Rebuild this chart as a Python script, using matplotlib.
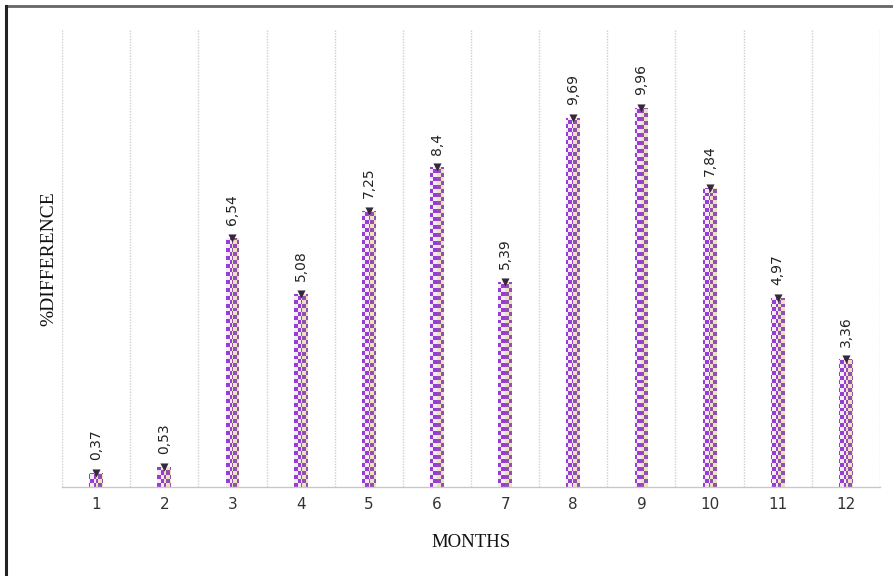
import matplotlib
matplotlib.use("Agg")
import matplotlib.pyplot as plt
import numpy as np
from matplotlib.lines import Line2D

months = [1, 2, 3, 4, 5, 6, 7, 8, 9, 10, 11, 12]
pct_diff = [0.37, 0.53, 6.54, 5.08, 7.25, 8.4, 5.39, 9.69, 9.96, 7.84, 4.97, 3.36]
value_labels = ["0,37", "0,53", "6,54", "5,08", "7,25", "8,4",
                "5,39", "9,69", "9,96", "7,84", "4,97", "3,36"]

fig = plt.figure(figsize=(8.93, 5.76), dpi=100)
ax = fig.add_axes([62 / 893, 89 / 576, 818 / 893, 457 / 576])

ax.set_xlim(0.5, 12.5)
ax.set_ylim(0, 12)

# checkerboard fill, roughly 4 px squares over the whole axes
ny, nx = 115, 205
checker = (np.add.outer(np.arange(ny), np.arange(nx)) % 2).astype(float)

bar_w = 0.2
half = bar_w / 2
left_bars = ax.bar(np.array(months) - half / 2, pct_diff, width=half,
                   color="none", edgecolor="none", zorder=2)
right_bars = ax.bar(np.array(months) + half / 2, pct_diff, width=half,
                    color="none", edgecolor="none", zorder=2)

left_cmap = matplotlib.colors.ListedColormap(["#9a3bd4", "#f3ecf7"])
right_cmap = matplotlib.colors.ListedColormap(["#eee0c0", "#8c52ad"])

for patches, cmap in [(left_bars, left_cmap), (right_bars, right_cmap)]:
    for p in patches:
        im = ax.imshow(checker, cmap=cmap, extent=(0.5, 12.5, 0, 12),
                       aspect="auto", interpolation="nearest", origin="lower",
                       zorder=2)
        im.set_clip_path(p)

# dark cap on top of each bar
ax.scatter(months, pct_diff, marker="v", s=34, color="#352838", zorder=3,
           linewidths=0)

for m, v, lab in zip(months, pct_diff, value_labels):
    ax.annotate(lab, (m, v), xytext=(0, 9), textcoords="offset points",
                rotation=90, ha="center", va="bottom", fontsize=10,
                family="DejaVu Sans", color="#222222")

# dotted category separators and baseline
ax.set_xticks(np.arange(0.5, 13, 1), minor=True)
ax.grid(axis="x", which="minor", linestyle=(0, (1, 1)), color="#d0d0d0",
        linewidth=1)
ax.grid(axis="x", which="major", visible=False)
for s in ["top", "right", "left"]:
    ax.spines[s].set_visible(False)
ax.spines["bottom"].set_linestyle((0, (1, 1)))
ax.spines["bottom"].set_color("#c8c8c8")
ax.spines["bottom"].set_linewidth(1)

ax.set_xticks(months)
ax.set_xticklabels([str(m) for m in months], fontsize=11,
                   family="DejaVu Sans", color="#333333")
ax.tick_params(axis="x", which="both", length=0, pad=7)
ax.set_yticks([])

ax.set_xlabel("MONTHS", family="Liberation Serif", fontsize=13.5,
              color="#111111", labelpad=16)
ax.set_ylabel("%DIFFERENCE", family="Liberation Serif", fontsize=14,
              color="#111111", labelpad=3)

# outer frame, top and left edges
fig.add_artist(Line2D([6 / 893, 1], [1 - 6 / 576, 1 - 6 / 576],
                      transform=fig.transFigure, color="#666666", lw=2))
fig.add_artist(Line2D([6 / 893, 6 / 893], [0, 1 - 6 / 576],
                      transform=fig.transFigure, color="#222222", lw=2.2))

fig.savefig("out.png", dpi=100)
